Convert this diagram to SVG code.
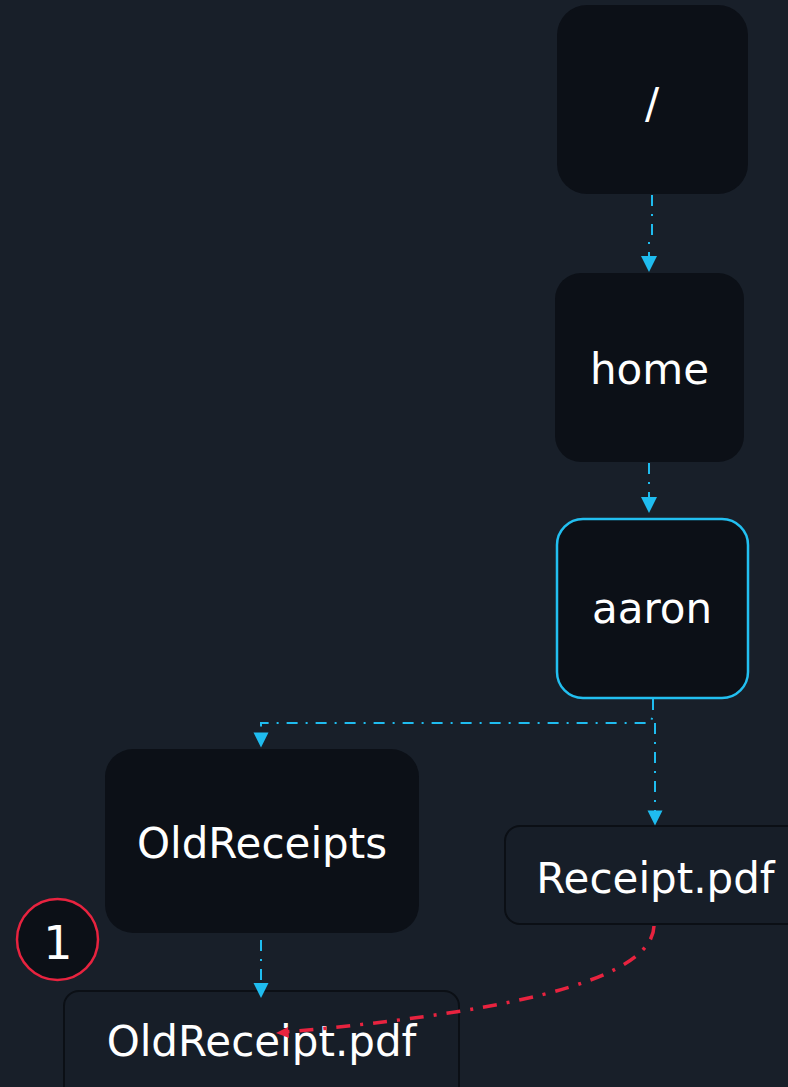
<svg xmlns="http://www.w3.org/2000/svg" width="788" height="1087" viewBox="0 0 788 1087">
  <style>
    .bg { fill: #181f29; }
    .dir { fill: #0c1017; }
    .file { fill: #171e28; stroke: #0b0f15; stroke-width: 2; }
    .sel { stroke: #22bff0; stroke-width: 2.5; }
    .lbl { font-family: "DejaVu Sans", Verdana, sans-serif; font-size: 42px; fill: #ffffff; text-anchor: middle; }
    .edge { fill: none; stroke: #1fbcef; stroke-width: 2; stroke-dasharray: 11 8 2 8; }
    .head { fill: #1fbcef; }
    .red { fill: none; stroke: #e8233f; stroke-width: 3.5; stroke-dasharray: 14 10 3 10; }
  </style>
  <rect class="bg" x="0" y="0" width="788" height="1087"/>

  <g id="node-root">
    <rect class="dir" x="557" y="5" width="191" height="189" rx="30"/>
    <text class="lbl" x="652" y="118">/</text>
  </g>
  <g id="node-home">
    <rect class="dir" x="555" y="273" width="189" height="189" rx="26"/>
    <text class="lbl" x="649.5" y="384">home</text>
  </g>
  <g id="node-aaron">
    <rect class="dir sel" x="557" y="519" width="191" height="179" rx="26"/>
    <text class="lbl" x="652" y="623">aaron</text>
  </g>
  <g id="node-oldreceipts">
    <rect class="dir" x="105" y="749" width="314" height="184" rx="28"/>
    <text class="lbl" x="262" y="858">OldReceipts</text>
  </g>
  <g id="node-receipt">
    <rect class="file" x="505" y="826" width="300" height="98" rx="15"/>
    <text class="lbl" x="655.5" y="893">Receipt.pdf</text>
  </g>
  <g id="node-oldreceipt">
    <rect class="file" x="64" y="991" width="395" height="110" rx="15"/>
    <text class="lbl" x="261.5" y="1056">OldReceipt.pdf</text>
  </g>
  <g id="badge-1">
    <circle cx="57.5" cy="939.5" r="40.5" fill="#0c1017" stroke="#e8233f" stroke-width="2.5"/>
    <text x="58" y="959" font-family="DejaVu Sans, Verdana, sans-serif" font-size="46" fill="#ffffff" text-anchor="middle">1</text>
  </g>

  <g id="connectors">
    <path class="edge" d="M652,195 L652,236 L649,240 L649,258"/>
    <polygon class="head" points="641,256 657,256 649,272"/>
    <path class="edge" d="M649,463 L649,499"/>
    <polygon class="head" points="641,497 657,497 649,513"/>
    <path class="edge" d="M653,699 L653,716 L650,723 L261,723 L261,735"/>
    <polygon class="head" points="253.5,732.5 268.5,732.5 261,747.5"/>
    <path class="edge" d="M655,723 L655,812"/>
    <polygon class="head" points="647.5,810.5 662.5,810.5 655,825.5"/>
    <path class="edge" d="M261,940 L261,985"/>
    <polygon class="head" points="253.5,983 268.5,983 261,998"/>
    <path class="red" d="M654,926 C652,985 480,1015 285,1032"/>
    <polygon points="276,1033 288,1027 289,1038" fill="#e8233f"/>
  </g>
</svg>
